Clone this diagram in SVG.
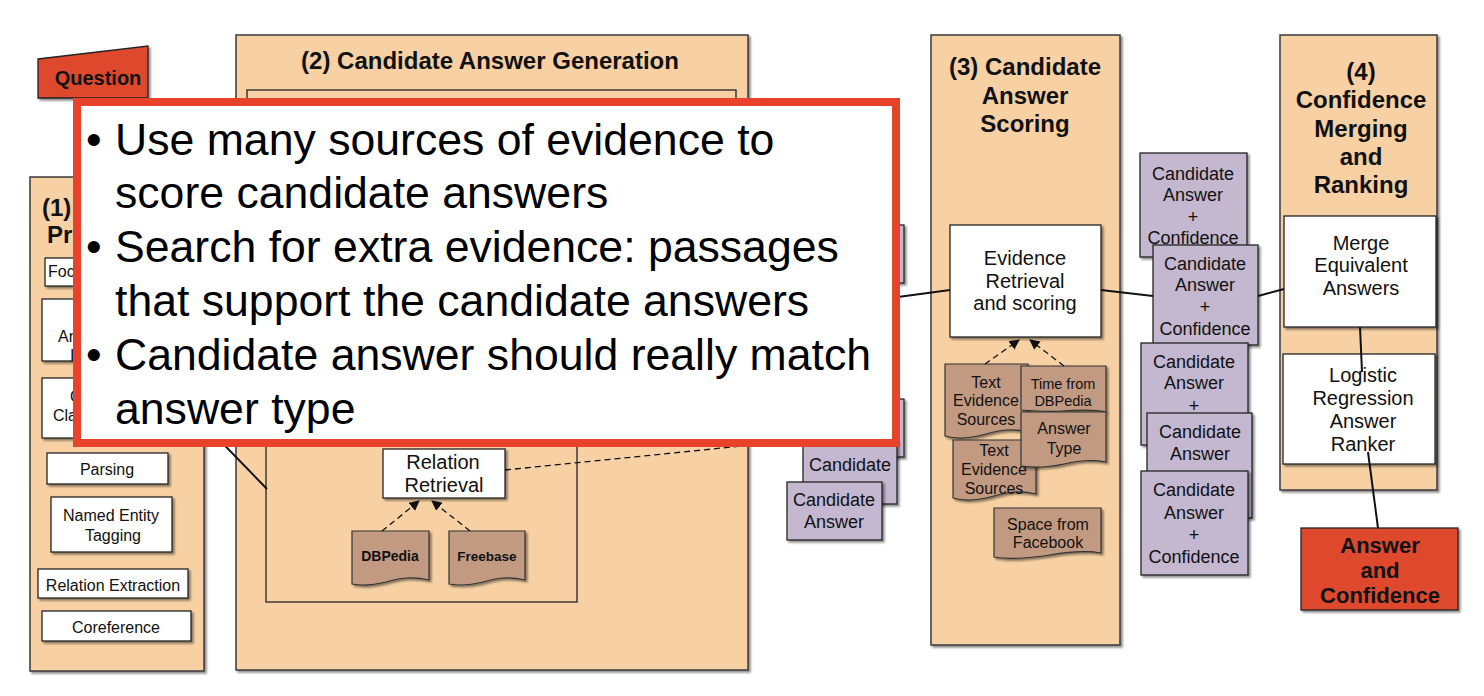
<svg xmlns="http://www.w3.org/2000/svg" width="1484" height="696" viewBox="0 0 1484 696">
  <defs>
    <filter id="sh" x="-10%" y="-10%" width="130%" height="130%">
      <feDropShadow dx="2" dy="2" stdDeviation="1" flood-color="#000" flood-opacity="0.45"/>
    </filter>
    <marker id="ah" viewBox="0 0 10 10" refX="9" refY="5" markerWidth="8" markerHeight="8" orient="auto">
      <path d="M0,0 L10,5 L0,10 z" fill="#111"/>
    </marker>
    <style>
      .panel { fill: #F7D1A3; stroke: #3a3a3a; stroke-width: 1.5; filter: url(#sh); }
      .box { fill: #fff; stroke: #222; stroke-width: 1.3; filter: url(#sh); }
      .cand { fill: #C4B7D0; stroke: #222; stroke-width: 1.3; filter: url(#sh); }
      .doc { fill: #C29A82; stroke: #333; stroke-width: 1.2; filter: url(#sh); }
      .red { fill: #DE4A2F; stroke: #222; stroke-width: 1.3; filter: url(#sh); }
      .frame { fill: none; stroke: #222; stroke-width: 1.3; }
      .t { font-family: "Liberation Sans", Arial, sans-serif; fill: #111; text-anchor: middle; }
      .l { text-anchor: start; }
      .b { font-weight: bold; }
      .s16 { font-size: 16px; }
      .s18 { font-size: 18px; }
      .s20 { font-size: 20px; }
      .s24 { font-size: 24px; }
      .line { stroke: #111; stroke-width: 2; fill: none; }
      .dash { stroke: #111; stroke-width: 1.3; fill: none; stroke-dasharray: 6 4; }
      .ov { font-family: "Liberation Sans", Arial, sans-serif; font-size: 44.6px; fill: #000; }
    </style>
  </defs>

  <rect width="1484" height="696" fill="#fff"/>

  <!-- Question input -->
  <g id="question">
    <path class="red" d="M38,59 L148,46 L148,98 L38,98 Z"/>
    <text class="t b s20" x="98" y="85">Question</text>
  </g>

  <!-- (1) Question processing -->
  <g id="panel1">
    <rect class="panel" x="30" y="177" width="174" height="494"/>
    <text class="t b s24 l" x="42" y="216">(1)</text>
    <text class="t b s24 l" x="47" y="243">Pr</text>
    <rect class="box" x="45" y="258" width="80" height="28"/>
    <text class="t s16 l" x="48" y="277">Foc</text>
    <rect class="box" x="42" y="299" width="80" height="62"/>
    <text class="t s16 l" x="58" y="342">An</text>
    <text class="t s16 l" x="70" y="361">I</text>
    <rect class="box" x="42" y="378" width="80" height="60"/>
    <text class="t s16 l" x="70" y="402">Q</text>
    <text class="t s16 l" x="53" y="421">Cla</text>
    <rect class="box" x="47" y="453" width="121" height="31"/>
    <text class="t s16" x="107" y="475">Parsing</text>
    <rect class="box" x="51" y="497" width="121" height="55"/>
    <text class="t s16" x="111" y="521">Named Entity</text>
    <text class="t s16" x="113" y="541">Tagging</text>
    <rect class="box" x="38" y="569" width="150" height="29"/>
    <text class="t s16" x="113" y="591">Relation Extraction</text>
    <rect class="box" x="42" y="611" width="149" height="30"/>
    <text class="t s16" x="116" y="633">Coreference</text>
  </g>

  <!-- (2) Candidate answer generation -->
  <g id="panel2">
    <rect class="panel" x="236" y="35" width="512" height="635"/>
    <text class="t b s24" x="490" y="69">(2) Candidate Answer Generation</text>
    <rect class="frame" x="247" y="90" width="489" height="330"/>
    <rect class="frame" x="266" y="300" width="311" height="302"/>
  </g>
  <g id="relation-retrieval">
    <rect class="box" x="383" y="449" width="122" height="49"/>
    <text class="t s20" x="443" y="469">Relation</text>
    <text class="t s20" x="444" y="492">Retrieval</text>
  </g>
  <g id="dbpedia">
    <path class="doc" d="M352,531 H429 V580 C412,576 400,578 386,582 C374,585 362,586 352,584 Z"/>
    <text class="t b" style="font-size:14px" x="390" y="561">DBPedia</text>
  </g>
  <g id="freebase">
    <path class="doc" d="M449,531 H525 V580 C508,576 497,578 483,582 C471,585 460,586 449,584 Z"/>
    <text class="t b" style="font-size:13.5px" x="487" y="561">Freebase</text>
  </g>

  <!-- Candidate answers from generation -->
  <g id="cands-left">
    <rect class="cand" x="810" y="225" width="94" height="58"/>
    <rect class="cand" x="810" y="399" width="94" height="58"/>
    <rect class="cand" x="803" y="440" width="94" height="64"/>
    <text class="t s18" x="850" y="471">Candidate</text>
    <rect class="cand" x="787" y="482" width="95" height="58"/>
    <text class="t s18" x="834" y="506">Candidate</text>
    <text class="t s18" x="834" y="528">Answer</text>
  </g>

  <!-- (3) Candidate answer scoring -->
  <g id="panel3">
    <rect class="panel" x="931" y="35" width="189" height="610"/>
    <text class="t b s24" x="1025" y="75">(3) Candidate</text>
    <text class="t b s24" x="1025" y="104">Answer</text>
    <text class="t b s24" x="1025" y="132">Scoring</text>
  </g>
  <g id="evidence">
    <rect class="box" x="950" y="225" width="151" height="112"/>
    <text class="t s20" x="1025" y="265">Evidence</text>
    <text class="t s20" x="1025" y="288">Retrieval</text>
    <text class="t s20" x="1025" y="310">and scoring</text>
  </g>
  <g id="sources">
    <path class="doc" d="M945,364 H1028 V432 C1012,428 1000,430 986,434 C972,438 958,440 945,436 Z"/>
    <text class="t s16" x="986" y="388">Text</text>
    <text class="t s16" x="986" y="406">Evidence</text>
    <text class="t s16" x="986" y="425">Sources</text>
    <path class="doc" d="M953,440 H1036 V494 C1020,490 1008,492 994,496 C980,500 966,502 953,498 Z"/>
    <text class="t s16" x="994" y="456">Text</text>
    <text class="t s16" x="994" y="475">Evidence</text>
    <text class="t s16" x="994" y="494">Sources</text>
    <path class="doc" d="M1021,366 H1106 V412 C1092,409 1078,410 1063,411 C1048,412 1034,411 1021,410 Z"/>
    <text class="t" style="font-size:14.5px" x="1063" y="389">Time from</text>
    <text class="t" style="font-size:14.5px" x="1063" y="406">DBPedia</text>
    <path class="doc" d="M1021,412 H1106 V462 C1090,459 1078,461 1064,464 C1050,467 1034,468 1021,466 Z"/>
    <text class="t s16" x="1064" y="434">Answer</text>
    <text class="t s16" x="1064" y="454">Type</text>
    <path class="doc" d="M994,508 H1101 V553 C1084,550 1068,552 1050,555 C1030,558 1010,560 994,557 Z"/>
    <text class="t s16" x="1048" y="530">Space from</text>
    <text class="t s16" x="1048" y="548">Facebook</text>
  </g>

  <!-- Scored candidates -->
  <g id="cands-right">
    <rect class="cand" x="1140" y="153" width="107" height="104"/>
    <text class="t s18" x="1193" y="180">Candidate</text>
    <text class="t s18" x="1193" y="201">Answer</text>
    <text class="t s18" x="1193" y="223">+</text>
    <text class="t s18" x="1193" y="244">Confidence</text>
    <rect class="cand" x="1153" y="245" width="105" height="100"/>
    <text class="t s18" x="1205" y="270">Candidate</text>
    <text class="t s18" x="1205" y="291">Answer</text>
    <text class="t s18" x="1205" y="313">+</text>
    <text class="t s18" x="1205" y="335">Confidence</text>
    <rect class="cand" x="1141" y="343" width="107" height="102"/>
    <text class="t s18" x="1194" y="368">Candidate</text>
    <text class="t s18" x="1194" y="389">Answer</text>
    <text class="t s18" x="1194" y="412">+</text>
    <rect class="cand" x="1147" y="413" width="105" height="105"/>
    <text class="t s18" x="1200" y="438">Candidate</text>
    <text class="t s18" x="1200" y="460">Answer</text>
    <rect class="cand" x="1141" y="471" width="107" height="104"/>
    <text class="t s18" x="1194" y="496">Candidate</text>
    <text class="t s18" x="1194" y="519">Answer</text>
    <text class="t s18" x="1194" y="541">+</text>
    <text class="t s18" x="1194" y="563">Confidence</text>
  </g>

  <!-- (4) Confidence merging and ranking -->
  <g id="panel4">
    <rect class="panel" x="1280" y="35" width="157" height="455"/>
    <text class="t b s24" x="1361" y="80">(4)</text>
    <text class="t b s24" x="1361" y="108">Confidence</text>
    <text class="t b s24" x="1361" y="137">Merging</text>
    <text class="t b s24" x="1361" y="165">and</text>
    <text class="t b s24" x="1361" y="193">Ranking</text>
  </g>
  <g id="merge">
    <rect class="box" x="1284" y="216" width="152" height="111"/>
    <text class="t s20" x="1361" y="250">Merge</text>
    <text class="t s20" x="1361" y="272">Equivalent</text>
    <text class="t s20" x="1361" y="295">Answers</text>
  </g>
  <g id="ranker">
    <rect class="box" x="1283" y="354" width="152" height="110"/>
    <text class="t s20" x="1363" y="382">Logistic</text>
    <text class="t s20" x="1363" y="405">Regression</text>
    <text class="t s20" x="1363" y="428">Answer</text>
    <text class="t s20" x="1363" y="451">Ranker</text>
  </g>
  <g id="answer">
    <rect class="red" x="1301" y="528" width="157" height="82"/>
    <text class="t b" style="font-size:22px" x="1380" y="553">Answer</text>
    <text class="t b" style="font-size:22px" x="1380" y="578">and</text>
    <text class="t b" style="font-size:22px" x="1380" y="603">Confidence</text>
  </g>

  <!-- Connectors -->
  <g id="connectors">
    <line class="line" x1="200" y1="420" x2="267" y2="489"/>
    <path class="dash" d="M505,470 L880,432"/>
    <line class="dash" x1="382" y1="531" x2="419" y2="501" marker-end="url(#ah)"/>
    <line class="dash" x1="470" y1="531" x2="432" y2="501" marker-end="url(#ah)"/>
    <line class="line" x1="898" y1="297" x2="950" y2="290"/>
    <line class="dash" x1="985" y1="364" x2="1019" y2="340" marker-end="url(#ah)"/>
    <line class="dash" x1="1064" y1="366" x2="1030" y2="340" marker-end="url(#ah)"/>
    <line class="line" x1="1101" y1="290" x2="1153" y2="296"/>
    <line class="line" x1="1258" y1="296" x2="1284" y2="289"/>
    <line class="line" x1="1360" y1="327" x2="1362" y2="372"/>
    <line class="line" x1="1368" y1="452" x2="1378" y2="528"/>
  </g>

  <!-- Callout with key points -->
  <g id="callout">
    <rect x="77" y="102" width="819" height="341" fill="#fff" stroke="#E8432A" stroke-width="8"/>
    <text class="ov" x="86" y="155">•</text>
    <text class="ov" x="115" y="155">Use many sources of evidence to</text>
    <text class="ov" x="115" y="208">score candidate answers</text>
    <text class="ov" x="86" y="262">•</text>
    <text class="ov" x="115" y="262">Search for extra evidence: passages</text>
    <text class="ov" x="115" y="316">that support the candidate answers</text>
    <text class="ov" x="86" y="370">•</text>
    <text class="ov" x="115" y="370">Candidate answer should really match</text>
    <text class="ov" x="115" y="424">answer type</text>
  </g>
</svg>
